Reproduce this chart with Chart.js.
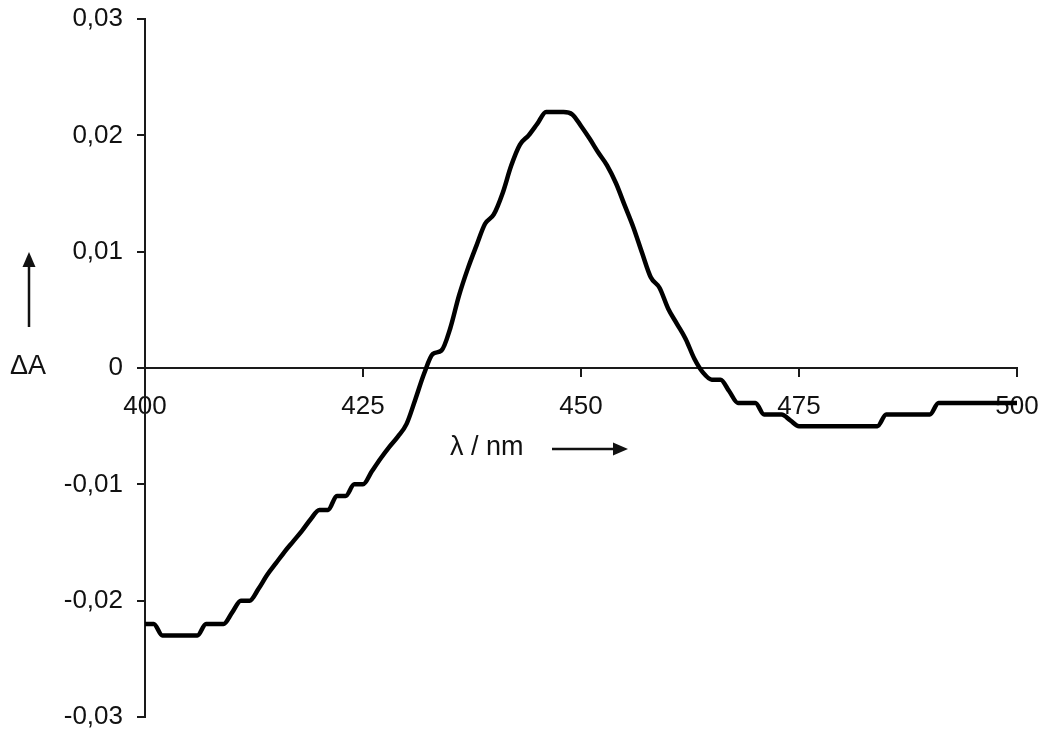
<!DOCTYPE html>
<html>
<head>
<meta charset="utf-8">
<script src="https://cdn.jsdelivr.net/npm/chart.js@4/dist/chart.umd.min.js"></script>
<style>
  html, body { margin: 0; padding: 0; background: #fff; }
  #wrap { width: 1041px; height: 742px; }
</style>
</head>
<body>
<div id="wrap"><canvas id="c" width="1041" height="742"></canvas></div>
<script>
// difference spectrum (1 nm steps)
const wavelengths = [
  400, 401, 402, 403, 404, 405, 406, 407, 408, 409,
  410, 411, 412, 413, 414, 415, 416, 417, 418, 419,
  420, 421, 422, 423, 424, 425, 426, 427, 428, 429,
  430, 431, 432, 433, 434, 435, 436, 437, 438, 439,
  440, 441, 442, 443, 444, 445, 446, 447, 448, 449,
  450, 451, 452, 453, 454, 455, 456, 457, 458, 459,
  460, 461, 462, 463, 464, 465, 466, 467, 468, 469,
  470, 471, 472, 473, 474, 475, 476, 477, 478, 479,
  480, 481, 482, 483, 484, 485, 486, 487, 488, 489,
  490, 491, 492, 493, 494, 495, 496, 497, 498, 499, 500,
];
const deltaA = [
  -0.022, -0.022, -0.023, -0.023, -0.023, -0.023, -0.023, -0.022, -0.022, -0.022,
  -0.021, -0.020, -0.020, -0.019, -0.0178, -0.0168, -0.0158, -0.0149, -0.014, -0.013,
  -0.0122, -0.0122, -0.011, -0.011, -0.010, -0.010, -0.0089, -0.0078, -0.0068, -0.0059,
  -0.0048, -0.0027, -0.0005, 0.0012, 0.0015, 0.0034, 0.0062, 0.0085, 0.0105, 0.0124,
  0.0132, 0.015, 0.0174, 0.0192, 0.020, 0.021, 0.022, 0.022, 0.022, 0.0218,
  0.0208, 0.0197, 0.0185, 0.0174, 0.0159, 0.014, 0.0121, 0.0099, 0.0078, 0.0069,
  0.0051, 0.0038, 0.0025, 0.0008, -0.0004, -0.001, -0.001, -0.002, -0.003, -0.003,
  -0.003, -0.004, -0.004, -0.004, -0.0045, -0.005, -0.005, -0.005, -0.005, -0.005,
  -0.005, -0.005, -0.005, -0.005, -0.005, -0.004, -0.004, -0.004, -0.004, -0.004,
  -0.004, -0.003, -0.003, -0.003, -0.003, -0.003, -0.003, -0.003, -0.003, -0.003, -0.003,
];

const xTicks = [400, 425, 450, 475, 500];
const yTicks = [-0.03, -0.02, -0.01, 0, 0.01, 0.02, 0.03];

const AXIS = "#1a1a1a";
const FONT = "'Liberation Sans', Arial, sans-serif";

function fmtY(v) {
  if (Math.abs(v) < 1e-9) return "0";
  return v.toFixed(2).replace(".", ",");
}

function arrow(ctx, x1, y1, x2, y2, head, half) {
  const a = Math.atan2(y2 - y1, x2 - x1);
  const bx = x2 - head * Math.cos(a), by = y2 - head * Math.sin(a);
  ctx.beginPath();
  ctx.moveTo(x1, y1);
  ctx.lineTo(bx, by);
  ctx.stroke();
  ctx.beginPath();
  ctx.moveTo(x2, y2);
  ctx.lineTo(bx + half * Math.sin(a), by - half * Math.cos(a));
  ctx.lineTo(bx - half * Math.sin(a), by + half * Math.cos(a));
  ctx.closePath();
  ctx.fill();
}

// axis titles with arrows (ΔA ↑, λ / nm →)
const axisTitles = {
  id: "axisTitles",
  afterDraw(chart) {
    const ctx = chart.ctx;
    ctx.save();
    ctx.fillStyle = "#111";
    ctx.strokeStyle = "#111";
    ctx.lineWidth = 2.5;
    ctx.font = "27px " + FONT;
    ctx.textBaseline = "middle";
    ctx.textAlign = "left";
    ctx.fillText("ΔA", 10, 367);
    arrow(ctx, 29, 327, 29, 252, 15, 6.5);
    ctx.fillText("λ / nm", 450, 448);
    arrow(ctx, 552, 449, 628, 449, 15, 6.5);
    ctx.restore();
  },
};

new Chart(document.getElementById("c"), {
  type: "line",
  data: {
    datasets: [
      {
        data: wavelengths.map((w, i) => ({ x: w, y: deltaA[i] })),
        borderColor: "#000",
        borderWidth: 4.5,
        pointRadius: 0,
        cubicInterpolationMode: "monotone",
        fill: false,
      },
    ],
  },
  options: {
    responsive: false,
    animation: false,
    events: [],
    layout: { padding: { top: 19, right: 24, bottom: 25, left: 0 } },
    plugins: { legend: { display: false }, tooltip: { enabled: false } },
    scales: {
      x: {
        type: "linear",
        min: 400,
        max: 500,
        position: { y: 0 },
        // axis sits on y = 0, so it takes no room of its own
        afterFit: (s) => {
          s.height = 0;
          s.paddingLeft = 0;
          s.paddingRight = 0;
        },
        afterBuildTicks: (s) => { s.ticks = xTicks.map((v) => ({ value: v })); },
        border: { display: true, color: AXIS, width: 2 },
        grid: { drawOnChartArea: false, drawTicks: true, tickLength: 8, color: AXIS, lineWidth: 2 },
        ticks: { color: "#111", font: { family: FONT, size: 26 }, padding: 15, maxRotation: 0 },
      },
      y: {
        min: -0.03,
        max: 0.03,
        afterFit: (s) => {
          s.width = 145;
          s.paddingTop = 0;
          s.paddingBottom = 0;
        },
        afterBuildTicks: (s) => { s.ticks = yTicks.map((v) => ({ value: v })); },
        border: { display: true, color: AXIS, width: 2 },
        grid: { drawOnChartArea: false, drawTicks: true, tickLength: 8, color: AXIS, lineWidth: 2 },
        ticks: { color: "#111", font: { family: FONT, size: 26 }, padding: 14, callback: fmtY },
      },
    },
  },
  plugins: [axisTitles],
});
</script>
</body>
</html>
